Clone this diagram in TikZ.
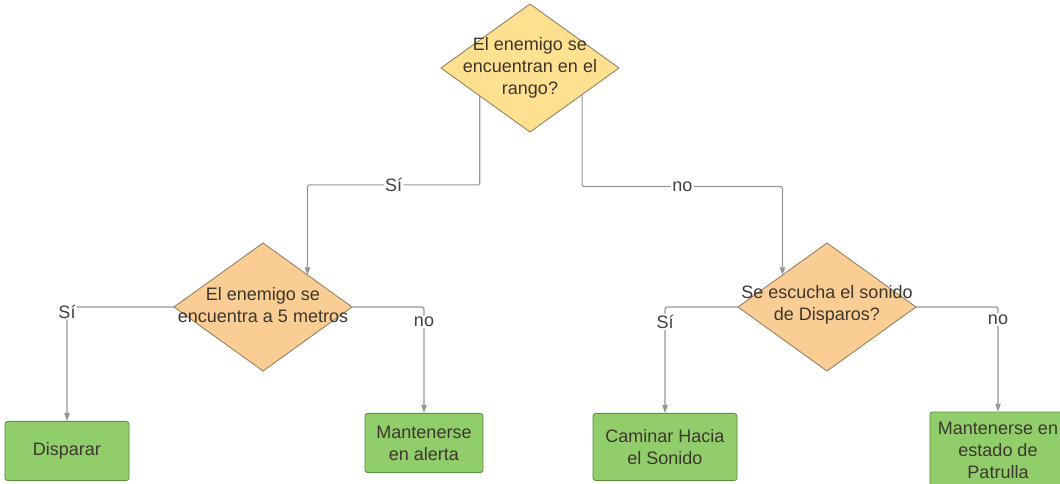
\documentclass[tikz,border=0pt]{standalone}
\usepackage{fontspec}
\setmainfont{Liberation Sans}
\usepackage{tikz}
\usetikzlibrary{shapes.geometric, arrows.meta, positioning}

\definecolor{diamyellow}{RGB}{254,224,145}
\definecolor{diampeach}{RGB}{250,205,148}
\definecolor{diamline}{RGB}{145,125,95}
\definecolor{boxgreen}{RGB}{146,205,108}
\definecolor{boxline}{RGB}{95,140,65}
\definecolor{wiregray}{RGB}{150,150,150}
\definecolor{txtgray}{RGB}{60,55,45}

\begin{document}
\begin{tikzpicture}[
    x=0.025cm, y=-0.025cm, % one unit = one pixel of the sketch
    every node/.style={font=\fontsize{12.8}{15.6}\selectfont, text=txtgray},
    decision/.style={shape=diamond, draw=diamline, line width=0.6pt,
        minimum width=4.45cm, minimum height=3.2cm, inner sep=0pt, outer sep=0pt},
    dtext/.style={align=center, inner sep=0pt},
    action/.style={draw=boxline, fill=boxgreen, line width=0.6pt, rounded corners=2pt,
        align=center, inner sep=1pt},
    conn/.style={draw=wiregray, line width=0.8pt, rounded corners=1.5pt,
        -{Triangle[length=5.5pt, width=3.8pt]}},
    lbl/.style={fill=white, inner sep=1pt, text=black!75},
]
\useasboundingbox (0,0) rectangle (1060,483);

% =========================================================
% 1. Enemy in range?
% =========================================================
\node[decision, fill=diamyellow] (D1) at (530,68) {};
\node[dtext] (T1) at (D1) {El enemigo se\\encuentran en el\\rango?};

% =========================================================
% 2. Enemy at 5 metres? (left branch)
% =========================================================
\node[decision, fill=diampeach] (D2) at (263,307) {};
\node[dtext] (T2) at ([yshift=0.05cm]D2) {El enemigo se\\encuentra a 5 metros};

% Actions for the left branch
\node[action, minimum width=3.1cm, minimum height=1.48cm] (B1) at (67,451) {Disparar};
\node[action, minimum width=2.95cm, minimum height=1.48cm] (B2) at (424,443) {Mantenerse\\en alerta};

% =========================================================
% 3. Gunshots heard? (right branch)
% =========================================================
\node[decision, fill=diampeach] (D3) at (827,307) {};
\node[dtext] (T3) at ([yshift=0.05cm]D3) {Se escucha el sonido\\de Disparos?};

% Actions for the right branch
\node[action, minimum width=3.6cm, minimum height=1.68cm] (B3) at (665,447) {Caminar Hacia\\el Sonido};
\node[action, minimum width=3.4cm, minimum height=1.9cm] (B4) at (998,450) {Mantenerse en\\estado de\\Patrulla};

% Wires from the top decision
\draw[conn] (D1.-151) -- ++(0,89) -| node[lbl, pos=0.25] {Sí} (D2.north east);
\draw[conn] (D1.-27) -- ++(0,92) -| node[lbl, pos=0.25] {no} (D3.north west);

% Wires from the left decision
\draw[conn] (D2.west) -| node[lbl, pos=0.52] {Sí} (B1.north);
\draw[conn] (D2.east) -| node[lbl, pos=0.57] {no} (B2.north);

% Wires from the right decision
\draw[conn] (D3.west) -| node[lbl, pos=0.57] {Sí} (B3.north);
\draw[conn] (D3.east) -| node[lbl, pos=0.56] {no} (B4.north);

\end{tikzpicture}
\end{document}
